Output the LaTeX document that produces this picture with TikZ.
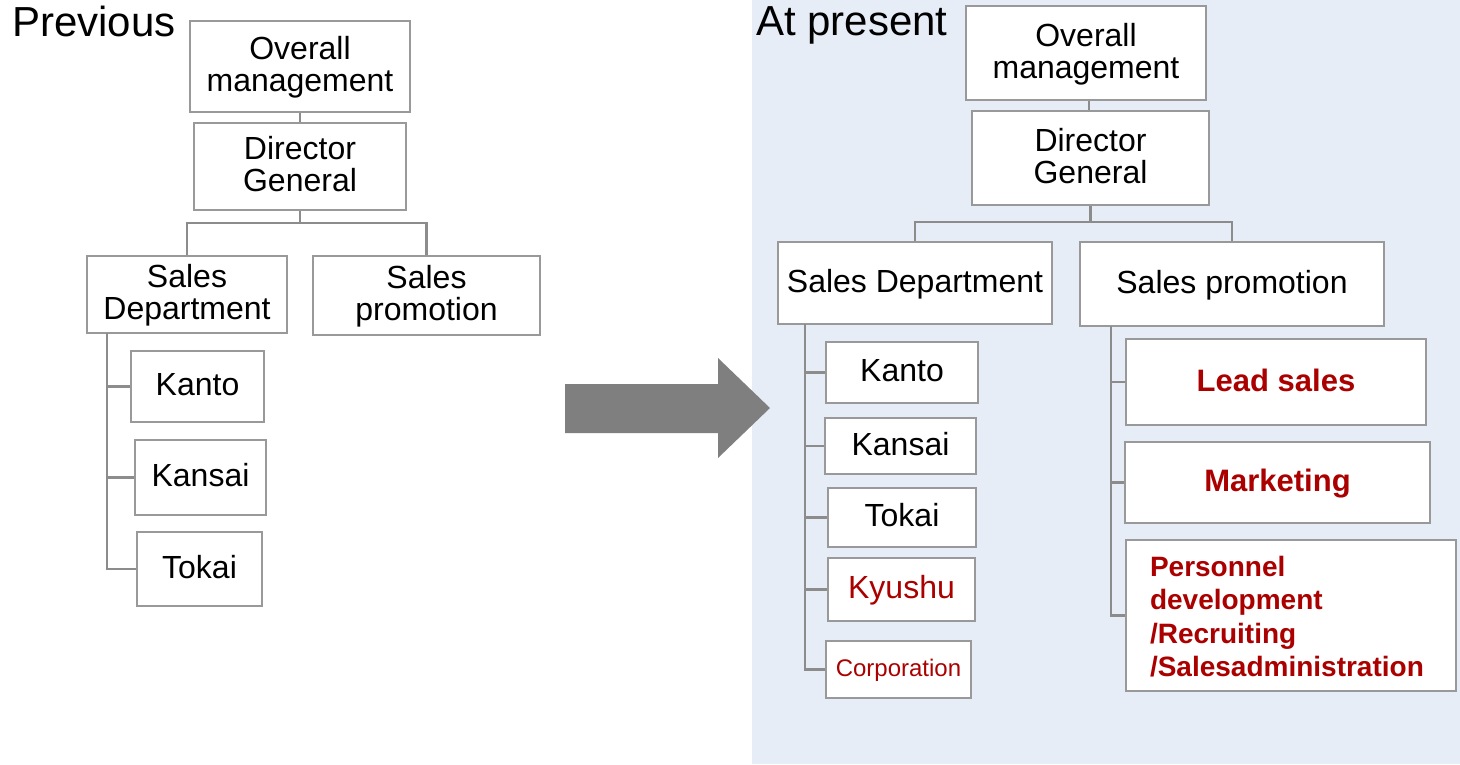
\documentclass[tikz,border=0pt]{standalone}
\usepackage{fontspec}
\setmainfont{Liberation Sans}
\usetikzlibrary{calc}
\definecolor{bgblue}{HTML}{E7EDF7}
\definecolor{boxgray}{HTML}{999999}
\definecolor{linegray}{HTML}{8C8C8C}
\definecolor{arrowgray}{HTML}{7F7F7F}
\definecolor{newred}{HTML}{AA0000}
\tikzset{
  orgbox/.style={draw=boxgray, line width=2.5pt, fill=white, inner sep=0pt, align=center,
    text height=24pt, text depth=6pt, font=\fontsize{32}{32}\selectfont},
  twoline/.style={text height=56pt, text depth=6pt},
  conn/.style={draw=linegray, line width=2.5pt},
  title/.style={anchor=base west, inner sep=0pt, font=\fontsize{42}{44}\selectfont},
  newbold/.style={text=newred, font=\fontsize{31}{34}\selectfont\bfseries},
}
\begin{document}
\begin{tikzpicture}[x=1pt,y=-1pt]
\useasboundingbox (0,0) rectangle (1460,764);
\fill[white] (0,0) rectangle (1460,764);
\fill[bgblue] (752,0) rectangle (1460,764);

% ---------- Previous ----------
\node[title] (prevt) at (12,36) {Previous};
\node[orgbox, twoline, minimum width=220pt, minimum height=91pt] (om) at (300,66.5) {Overall\\management};
\node[orgbox, twoline, minimum width=212pt, minimum height=87pt] (dg) at (300,166.5) {Director\\General};
\node[orgbox, twoline, minimum width=200pt, minimum height=77pt] (sd) at (187,294.5) {Sales\\Department};
\node[orgbox, twoline, minimum width=227pt, minimum height=79pt] (sp) at (426.5,295.5) {Sales\\promotion};
\node[orgbox, minimum width=133pt, minimum height=71pt] (kanto) at (197.5,386.5) {Kanto};
\node[orgbox, minimum width=131pt, minimum height=75pt] (kansai) at (200.5,477.5) {Kansai};
\node[orgbox, minimum width=125pt, minimum height=74pt] (tokai) at (199.5,569) {Tokai};

\coordinate (j1) at (300,223);
\coordinate (lv) at (107,333);
\draw[conn] (om.south) -- (dg.north);
\draw[conn] (dg.south) -- (j1);
\draw[conn] (j1) -| (sd.north);
\draw[conn] (j1) -| (sp.north);
\draw[conn] (lv) |- (tokai.west);
\draw[conn] (lv |- kanto.west) -- (kanto.west);
\draw[conn] (lv |- kansai.west) -- (kansai.west);

% ---------- Arrow ----------
\fill[arrowgray] (565,384) -- (718,384) -- (718,358) -- (770,408) -- (718,458) -- (718,433) -- (565,433) -- cycle;

% ---------- At present ----------
\node[title] (nowt) at (756,35) {At present};
\node[orgbox, twoline, minimum width=240pt, minimum height=94pt] (om2) at (1086,53) {Overall\\management};
\node[orgbox, twoline, minimum width=237pt, minimum height=94pt] (dg2) at (1090.5,158) {Director\\General};
\node[orgbox, minimum width=274pt, minimum height=82pt] (sd2) at (915,283) {Sales Department};
\node[orgbox, minimum width=304pt, minimum height=84pt] (sp2) at (1232,284) {Sales promotion};
\node[orgbox, minimum width=152pt, minimum height=61pt] (kanto2) at (902,372.5) {Kanto};
\node[orgbox, minimum width=151pt, minimum height=56pt] (kansai2) at (900.5,446) {Kansai};
\node[orgbox, minimum width=148pt, minimum height=59pt] (tokai2) at (902,517.5) {Tokai};
\node[orgbox, minimum width=147pt, minimum height=63pt, text=newred] (kyushu2) at (901.5,589.5) {Kyushu};
\node[orgbox, minimum width=145pt, minimum height=57pt, text=newred, text height=18pt, text depth=4.5pt,
  font=\fontsize{24}{26}\selectfont] (corp2) at (898.5,669.5) {Corporation};
\node[orgbox, newbold, minimum width=300pt, minimum height=86pt] (lead) at (1276,382) {Lead sales};
\node[orgbox, newbold, minimum width=305pt, minimum height=81pt] (mkt) at (1277.5,482.5) {Marketing};
\node[orgbox, newbold, font=\fontsize{28}{33.5}\selectfont\bfseries, align=left, text width=282pt, inner xsep=24pt,
  text height=24pt, text depth=102.5pt, minimum width=330pt, minimum height=151pt] (pers) at (1291,615.5)
  {Personnel\\development\\/Recruiting\\/Salesadministration};

\coordinate (c2) at (1089,0);
\coordinate (j2) at (1090.5,222);
\coordinate (rv) at (805,324);
\coordinate (pv) at (1111,326);
\draw[conn] (c2 |- om2.south) -- (c2 |- dg2.north);
\draw[conn] (dg2.south) -- (j2);
\draw[conn] (j2) -| (sd2.north);
\draw[conn] (j2) -| (sp2.north);
\draw[conn] (rv) |- (corp2.west);
\draw[conn] (rv |- kanto2.west) -- (kanto2.west);
\draw[conn] (rv |- kansai2.west) -- (kansai2.west);
\draw[conn] (rv |- tokai2.west) -- (tokai2.west);
\draw[conn] (rv |- kyushu2.west) -- (kyushu2.west);
\draw[conn] (pv) |- (pers.west);
\draw[conn] (pv |- lead.west) -- (lead.west);
\draw[conn] (pv |- mkt.west) -- (mkt.west);
\end{tikzpicture}
\end{document}
